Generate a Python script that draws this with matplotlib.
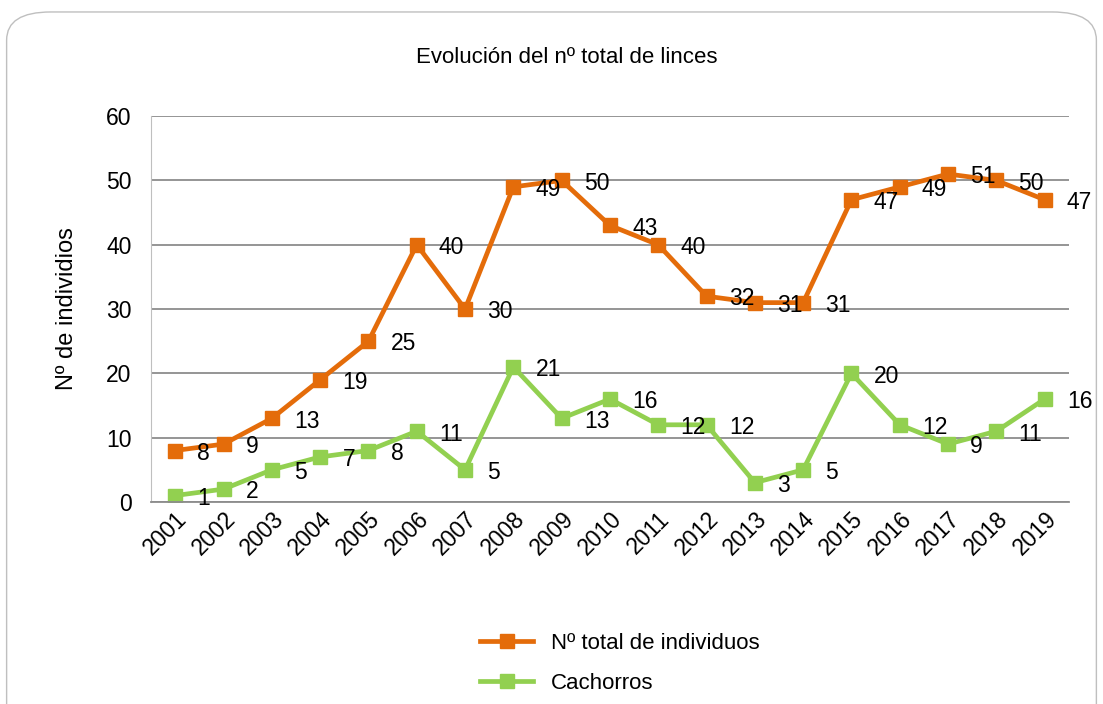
import matplotlib.pyplot as plt
from matplotlib.patches import FancyBboxPatch

years = [str(y) for y in range(2001, 2020)]
total = [8, 9, 13, 19, 25, 40, 30, 49, 50, 43, 40, 32, 31, 31, 47, 49, 51, 50, 47]
cachorros = [1, 2, 5, 7, 8, 11, 5, 21, 13, 16, 12, 12, 3, 5, 20, 12, 9, 11, 16]

ORANGE = '#E46C0A'
GREEN = '#92D050'

plt.rcParams['font.family'] = ['Liberation Sans', 'DejaVu Sans']

fig = plt.figure(figsize=(11.03, 7.04), dpi=100)

# marco redondeado del grafico
frame = FancyBboxPatch((0.006, -0.05), 0.988, 1.033, boxstyle='round,pad=0,rounding_size=0.04',
                       transform=fig.transFigure, fill=False, edgecolor='#BFBFBF', linewidth=1.0)
fig.patches.append(frame)

ax = fig.add_axes([0.137, 0.287, 0.832, 0.548])

x = list(range(len(years)))
ax.plot(x, total, color=ORANGE, lw=3.4, marker='s', ms=10, label='Nº total de individuos')
ax.plot(x, cachorros, color=GREEN, lw=3.4, marker='s', ms=10, label='Cachorros')

for xi, v in zip(x, total):
    ax.annotate(str(v), (xi, v), xytext=(16, -2), textcoords='offset points',
                ha='left', va='center', fontsize=16.5, color='black')
for xi, v in zip(x, cachorros):
    ax.annotate(str(v), (xi, v), xytext=(16, -2), textcoords='offset points',
                ha='left', va='center', fontsize=16.5, color='black')

ax.set_xlim(-0.5, len(years) - 0.5)
ax.set_ylim(0, 60)
ax.set_yticks(range(0, 61, 10))
ax.set_xticks(x)
ax.set_xticklabels(years, rotation=45, ha='right', rotation_mode='anchor', fontsize=16.5)
ax.tick_params(axis='y', labelsize=16.5, length=0, pad=14)
ax.tick_params(axis='x', length=0, pad=4)
ax.grid(axis='y', color='#8C8C8C', lw=1.3)
ax.set_axisbelow(True)
for s in ['top', 'right']:
    ax.spines[s].set_visible(False)
ax.spines['left'].set_color('#BFBFBF')
ax.spines['bottom'].set_color('#8C8C8C')
ax.spines['bottom'].set_linewidth(1.3)

ax.set_ylabel('Nº de individios', fontsize=17, labelpad=20)
fig.text(0.514, 0.918, 'Evolución del nº total de linces', ha='center', va='center', fontsize=16)

fig.legend(loc='center', bbox_to_anchor=(0.562, 0.058), ncol=1, frameon=False, fontsize=16,
           handlelength=2.4, labelspacing=0.85)

fig.savefig('out.png', dpi=100)
